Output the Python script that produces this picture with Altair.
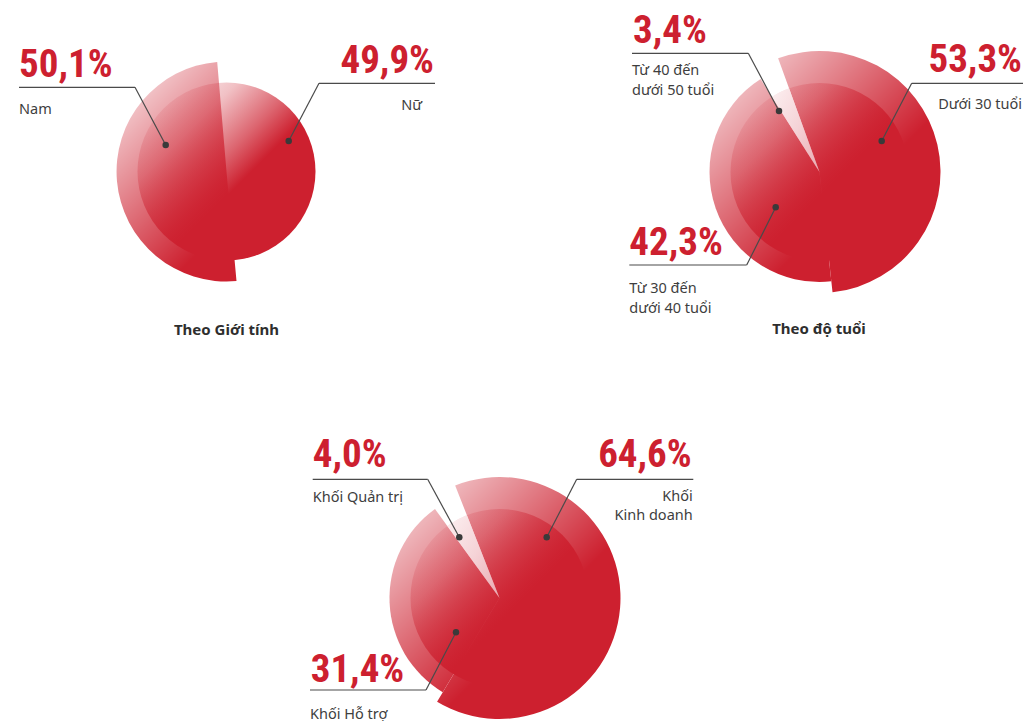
import math
import altair as alt
import pandas as pd

# ---------------- data ----------------
gender_labels = ["Nữ", "Nam"]
gender_values = [49.9, 50.1]
gender_pct = ["49,9%", "50,1%"]
gender_text = [["Nữ"], ["Nam"]]

age_labels = ["Dưới 30 tuổi", "Từ 30 đến dưới 40 tuổi", "Từ 40 đến dưới 50 tuổi"]
age_values = [53.3, 42.3, 3.4]
age_pct = ["53,3%", "42,3%", "3,4%"]
age_text = [["Dưới 30 tuổi"], ["Từ 30 đến", "dưới 40 tuổi"], ["Từ 40 đến", "dưới 50 tuổi"]]

unit_labels = ["Khối Kinh doanh", "Khối Hỗ trợ", "Khối Quản trị"]
unit_values = [64.6, 31.4, 4.0]
unit_pct = ["64,6%", "31,4%", "4,0%"]
unit_text = [["Khối", "Kinh doanh"], ["Khối Hỗ trợ"], ["Khối Quản trị"]]

pie_titles = ["Theo Giới tính", "Theo độ tuổi", ""]

# ---------------- layout / style ----------------
OFF = 8
W, H = 1015, 713
RED = "#CD202F"
INK = "#3E3E3E"
PCT_FONT = "Roboto Condensed, DejaVu Sans Condensed, Liberation Sans Narrow, Roboto, sans-serif"
TXT_FONT = "Noto Sans, Open Sans, sans-serif"

pies = [
    dict(key="gender", labels=gender_labels, values=gender_values, pct=gender_pct, text=gender_text,
         title=pie_titles[0], cx=226.5, cy=171.5, start=-4.85, disk=89,
         rings={"Nam": 110}, wedges=[], title_pos=(226.5, 335),
         ann=[  # side, pct x, pct baseline, line y, corner x, outer x, dot x, dot y, text x, text baseline
             ("right", 434, 73, 83.3, 319, 435, 288.7, 141, 422, 110),
             ("left", 19, 77, 87.3, 135, 19, 165.7, 145, 19, 114)]),
    dict(key="age", labels=age_labels, values=age_values, pct=age_pct, text=age_text,
         title=pie_titles[1], cx=819.5, cy=172, start=-20, disk=89,
         rings={"Dưới 30 tuổi": 121, "Từ 30 đến dưới 40 tuổi": 110},
         wedges=["Từ 40 đến dưới 50 tuổi"], title_pos=(819, 334),
         ann=[
             ("right", 1022, 72, 83.3, 911.7, 1023, 881.7, 141, 1022, 109),
             ("left", 629.3, 255, 265, 746.7, 629.3, 775.7, 207.3, 629.3, 293),
             ("left", 633, 43, 53.3, 748.3, 632, 779, 111, 632, 75)]),
    dict(key="unit", labels=unit_labels, values=unit_values, pct=unit_pct, text=unit_text,
         title=pie_titles[2], cx=499.5, cy=598, start=-21.5, disk=89,
         rings={"Khối Kinh doanh": 121, "Khối Hỗ trợ": 110},
         wedges=["Khối Quản trị"], title_pos=(499.5, 760),
         ann=[
             ("right", 691.7, 467, 479.3, 576.7, 693.3, 546.7, 537.3, 692.7, 500.5),
             ("left", 310.7, 681.7, 690, 426, 310, 456, 632.3, 310, 718.5),
             ("left", 312.7, 467, 479.3, 427.7, 312.7, 459.3, 537.3, 312.7, 501.7)]),
]

LINE_GAP = 19.9

WHITE_GRAD = {"gradient": "linear", "x1": 0, "y1": 0, "x2": 1, "y2": 1,
              "stops": [{"offset": 0, "color": "rgba(255,255,255,0.95)"},
                        {"offset": 0.62, "color": "rgba(255,255,255,0)"},
                        {"offset": 1, "color": "rgba(255,255,255,0)"}]}
DISK_GRAD = {"gradient": "linear", "x1": 0, "y1": 0, "x2": 1, "y2": 1,
             "stops": [{"offset": 0, "color": "rgba(205,32,47,0)"},
                       {"offset": 0.12, "color": "rgba(205,32,47,0.08)"},
                       {"offset": 0.28, "color": "rgba(205,32,47,0.28)"},
                       {"offset": 0.45, "color": "rgba(205,32,47,0.68)"},
                       {"offset": 0.57, "color": "rgba(205,32,47,1)"},
                       {"offset": 1, "color": "rgba(205,32,47,1)"}]}
WEDGE_GRAD = {"gradient": "linear", "x1": 0, "y1": 0, "x2": 1, "y2": 1,
              "stops": [{"offset": 0, "color": "#FCF0F1"},
                        {"offset": 0.5, "color": "#F5D3D7"},
                        {"offset": 1, "color": "#EAA9B0"}]}

# ---------------- tables ----------------
rows = []
for p in pies:
    for i, (lab, val) in enumerate(zip(p["labels"], p["values"])):
        rows.append({"pie": p["key"], "label": lab, "value": val, "order": i + 1})
slices = pd.DataFrame(rows)

theta_scale = alt.Scale(domain=[0, 1], range=[0, 2 * math.pi])

layers = []
for p in pies:
    cx, cy = p["cx"] - OFF, p["cy"] - OFF
    s = p["start"] / 360.0 + 1.0
    base = (alt.Chart(slices)
            .transform_filter(alt.datum.pie == p["key"])
            .transform_stack(stack="value", groupby=["pie"], as_=["v0", "v1"],
                             sort=[alt.SortField(field="order", order="ascending")])
            .transform_joinaggregate(total="sum(value)", groupby=["pie"])
            .transform_calculate(f0=f"{s} + datum.v0 / datum.total",
                                 f1=f"{s} + datum.v1 / datum.total"))
    enc = dict(theta=alt.Theta("f0:Q", scale=theta_scale), theta2=alt.Theta2("f1:Q"),
               x=alt.value(cx), y=alt.value(cy))
    rmax = max(p["rings"].values())
    for lab, r in p["rings"].items():
        layers.append(base.transform_filter(alt.datum.label == lab)
                      .mark_arc(radius=r, fill=RED).encode(**enc))
    full = dict(theta=alt.value(0), theta2=alt.value(2 * math.pi), x=alt.value(cx), y=alt.value(cy))
    layers.append(base.transform_filter(alt.datum.order == 1)
                  .mark_arc(radius=rmax + 1, fill=WHITE_GRAD).encode(**full))
    layers.append(base.transform_filter(alt.datum.order == 1)
                  .mark_arc(radius=p["disk"], fill=DISK_GRAD).encode(**full))
    for lab in p["wedges"]:
        layers.append(base.transform_filter(alt.datum.label == lab)
                      .mark_arc(radius=p["disk"], fill=WEDGE_GRAD).encode(**enc))

# annotations
pct_rows, txt_rows, seg_rows, dot_rows, title_rows = [], [], [], [], []
for p in pies:
    for i, a in enumerate(p["ann"]):
        side, px, py, ly, kx, ox, dx, dy, tx, tb = a
        pct_rows.append({"t": p["pct"][i], "x": px - OFF, "y": py - OFF, "side": side})
        txt_rows.append({"t": "\n".join(p["text"][i]), "x": tx - OFF, "y": tb - OFF, "side": side})
        seg_rows.append({"x": ox - OFF, "y": ly - OFF, "x2": kx - OFF, "y2": ly - OFF})
        seg_rows.append({"x": kx - OFF, "y": ly - OFF, "x2": dx - OFF, "y2": dy - OFF})
        dot_rows.append({"x": dx - OFF, "y": dy - OFF})
    if p["title"]:
        title_rows.append({"t": p["title"], "x": p["title_pos"][0] - OFF, "y": p["title_pos"][1] - OFF})

pct_df = pd.DataFrame(pct_rows)
txt_df = pd.DataFrame(txt_rows)
seg_df = pd.DataFrame(seg_rows)
dot_df = pd.DataFrame(dot_rows)
title_df = pd.DataFrame(title_rows)

X = lambda f: alt.X(f, scale=None, axis=None)
Y = lambda f: alt.Y(f, scale=None, axis=None)

layers.append(alt.Chart(seg_df).mark_rule(color="#4A4A4A", strokeWidth=1.2)
              .encode(x=X("x:Q"), y=Y("y:Q"), x2="x2:Q", y2="y2:Q"))
layers.append(alt.Chart(dot_df).mark_circle(color="#3A3A3A", opacity=1, size=42)
              .encode(x=X("x:Q"), y=Y("y:Q")))
for side, al in (("left", "left"), ("right", "right")):
    layers.append(alt.Chart(pct_df).transform_filter(alt.datum.side == side)
                  .mark_text(align=al, baseline="alphabetic", font=PCT_FONT, fontWeight="bold",
                             fontSize=39, color=RED)
                  .encode(x=X("x:Q"), y=Y("y:Q"), text="t:N"))
    layers.append(alt.Chart(txt_df).transform_filter(alt.datum.side == side)
                  .mark_text(align=al, baseline="alphabetic", font=TXT_FONT, fontSize=14.5, color=INK,
                             lineBreak="\n", lineHeight=LINE_GAP)
                  .encode(x=X("x:Q"), y=Y("y:Q"), text="t:N"))
layers.append(alt.Chart(title_df).mark_text(align="center", baseline="alphabetic", font=TXT_FONT,
                                             fontWeight="bold", fontSize=15, color="#2E2E2E")
              .encode(x=X("x:Q"), y=Y("y:Q"), text="t:N"))

chart = (alt.layer(*layers)
         .properties(width=W, height=H, padding=0, autosize=alt.AutoSizeParams(type="none"))
         .configure_view(stroke=None))

chart.save("out.html", embed_options={"renderer": "svg", "actions": False})
